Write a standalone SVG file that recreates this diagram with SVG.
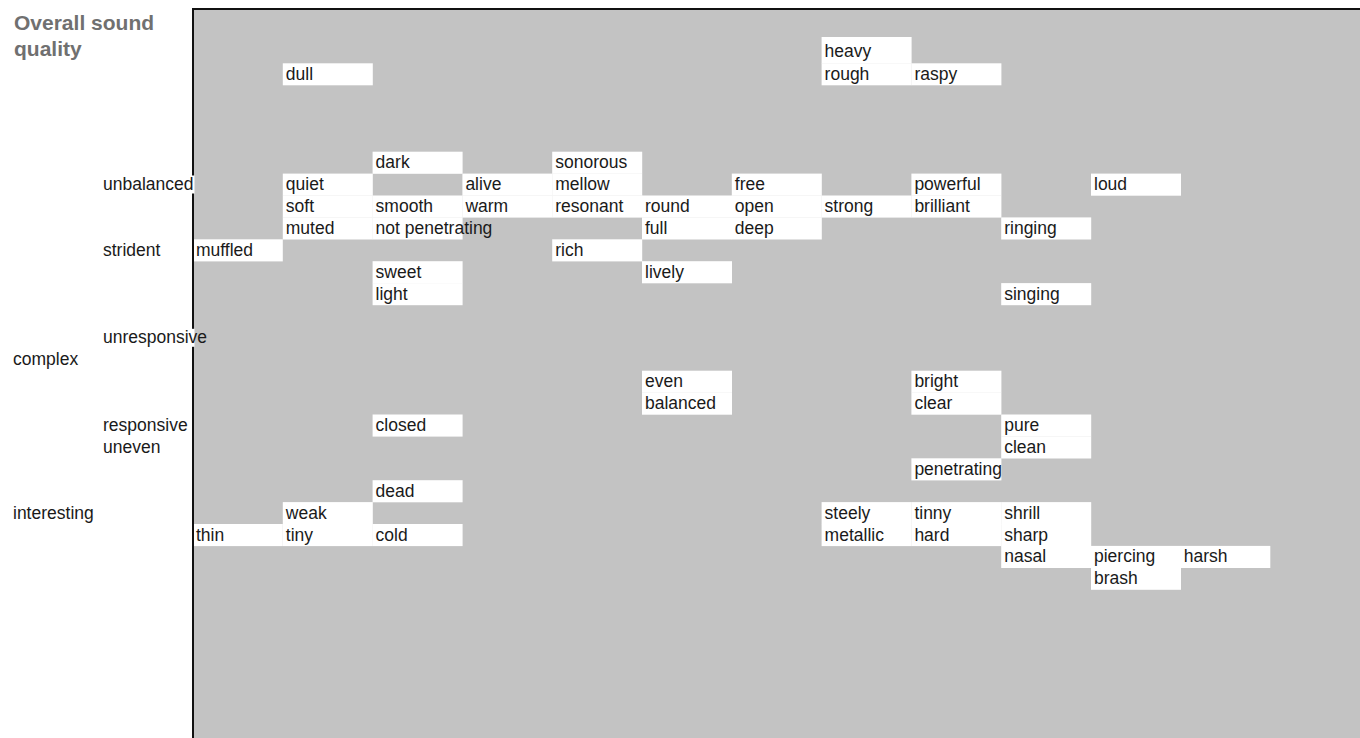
<svg xmlns="http://www.w3.org/2000/svg" width="1360" height="738" viewBox="0 0 1360 738">
<style>
.c{fill:#ffffff}
.t{font-family:"Liberation Sans",Arial,sans-serif;font-size:17.5px;fill:#1a1a1a}
.title{font-family:"Liberation Sans",Arial,sans-serif;font-size:21px;font-weight:bold;fill:#707070}
</style>
<rect x="0" y="0" width="1360" height="738" fill="#ffffff"/>
<rect id="area" x="193" y="9" width="1167" height="729" fill="#c3c3c3"/>
<path d="M193 738 V9 H1360" fill="none" stroke="#111111" stroke-width="2"/>
<g id="title">
<text class="title" x="14" y="30">Overall sound</text>
<text class="title" x="14" y="56">quality</text>
</g>
<g id="labels">
<rect x="150" y="175.5" width="44.5" height="18" fill="#ffffff"/>
<rect x="150" y="328.8" width="44.5" height="18" fill="#ffffff"/>
<g id="l-unbalanced"><text class="t" x="103" y="190.1">unbalanced</text></g>
<g id="l-strident"><text class="t" x="103" y="255.8">strident</text></g>
<g id="l-unresponsive"><text class="t" x="103" y="343.4">unresponsive</text></g>
<g id="l-complex"><text class="t" x="13" y="365.3">complex</text></g>
<g id="l-responsive"><text class="t" x="103" y="431">responsive</text></g>
<g id="l-uneven"><text class="t" x="103" y="452.9">uneven</text></g>
<g id="l-interesting"><text class="t" x="13" y="518.6">interesting</text></g>
</g>
<g id="cells">
<g id="heavy"><rect class="c" x="821.6" y="37" width="90" height="26.6"/><text class="t" x="824.6" y="57">heavy</text></g>
<g id="rough"><rect class="c" x="821.6" y="63.3" width="90" height="22"/><text class="t" x="824.6" y="79.8">rough</text></g>
<g id="raspy"><rect class="c" x="911.4" y="63.3" width="90" height="22"/><text class="t" x="914.4" y="79.8">raspy</text></g>
<g id="dull"><rect class="c" x="282.8" y="63.3" width="90" height="22"/><text class="t" x="285.8" y="79.8">dull</text></g>

<g id="dark"><rect class="c" x="372.6" y="151.7" width="90" height="22.1"/><text class="t" x="375.6" y="168.2">dark</text></g>
<g id="sonorous"><rect class="c" x="552.2" y="151.7" width="90" height="22.1"/><text class="t" x="555.2" y="168.2">sonorous</text></g>

<g id="quiet"><rect class="c" x="282.8" y="173.6" width="90" height="22.1"/><text class="t" x="285.8" y="190.1">quiet</text></g>
<g id="alive"><rect class="c" x="462.4" y="173.6" width="90" height="22.1"/><text class="t" x="465.4" y="190.1">alive</text></g>
<g id="mellow"><rect class="c" x="552.2" y="173.6" width="90" height="22.1"/><text class="t" x="555.2" y="190.1">mellow</text></g>
<g id="free"><rect class="c" x="731.8" y="173.6" width="90" height="22.1"/><text class="t" x="734.8" y="190.1">free</text></g>
<g id="powerful"><rect class="c" x="911.4" y="173.6" width="90" height="22.1"/><text class="t" x="914.4" y="190.1">powerful</text></g>
<g id="loud"><rect class="c" x="1091" y="173.6" width="90" height="22.1"/><text class="t" x="1094" y="190.1">loud</text></g>

<g id="soft"><rect class="c" x="282.8" y="195.5" width="90" height="22.1"/><text class="t" x="285.8" y="212">soft</text></g>
<g id="smooth"><rect class="c" x="372.6" y="195.5" width="90" height="22.1"/><text class="t" x="375.6" y="212">smooth</text></g>
<g id="warm"><rect class="c" x="462.4" y="195.5" width="90" height="22.1"/><text class="t" x="465.4" y="212">warm</text></g>
<g id="resonant"><rect class="c" x="552.2" y="195.5" width="90" height="22.1"/><text class="t" x="555.2" y="212">resonant</text></g>
<g id="round"><rect class="c" x="642" y="195.5" width="90" height="22.1"/><text class="t" x="645" y="212">round</text></g>
<g id="open"><rect class="c" x="731.8" y="195.5" width="90" height="22.1"/><text class="t" x="734.8" y="212">open</text></g>
<g id="strong"><rect class="c" x="821.6" y="195.5" width="90" height="22.1"/><text class="t" x="824.6" y="212">strong</text></g>
<g id="brilliant"><rect class="c" x="911.4" y="195.5" width="90" height="22.1"/><text class="t" x="914.4" y="212">brilliant</text></g>

<g id="muted"><rect class="c" x="282.8" y="217.4" width="90" height="22.1"/><text class="t" x="285.8" y="233.9">muted</text></g>
<g id="not-penetrating"><rect class="c" x="372.6" y="217.4" width="90" height="22.1"/><text class="t" x="375.6" y="233.9">not penetrating</text></g>
<g id="full"><rect class="c" x="642" y="217.4" width="90" height="22.1"/><text class="t" x="645" y="233.9">full</text></g>
<g id="deep"><rect class="c" x="731.8" y="217.4" width="90" height="22.1"/><text class="t" x="734.8" y="233.9">deep</text></g>
<g id="ringing"><rect class="c" x="1001.2" y="217.4" width="90" height="22.1"/><text class="t" x="1004.2" y="233.9">ringing</text></g>

<g id="muffled"><rect class="c" x="194" y="239.3" width="88.8" height="22.1"/><text class="t" x="196" y="255.8">muffled</text></g>
<g id="rich"><rect class="c" x="552.2" y="239.3" width="90" height="22.1"/><text class="t" x="555.2" y="255.8">rich</text></g>

<g id="sweet"><rect class="c" x="372.6" y="261.2" width="90" height="22.1"/><text class="t" x="375.6" y="277.7">sweet</text></g>
<g id="lively"><rect class="c" x="642" y="261.2" width="90" height="22.1"/><text class="t" x="645" y="277.7">lively</text></g>

<g id="light"><rect class="c" x="372.6" y="283.1" width="90" height="22.1"/><text class="t" x="375.6" y="299.6">light</text></g>
<g id="singing"><rect class="c" x="1001.2" y="283.1" width="90" height="22.1"/><text class="t" x="1004.2" y="299.6">singing</text></g>

<g id="even"><rect class="c" x="642" y="370.7" width="90" height="22.1"/><text class="t" x="645" y="387.2">even</text></g>
<g id="bright"><rect class="c" x="911.4" y="370.7" width="90" height="22.1"/><text class="t" x="914.4" y="387.2">bright</text></g>

<g id="balanced"><rect class="c" x="642" y="392.6" width="90" height="22.1"/><text class="t" x="645" y="409.1">balanced</text></g>
<g id="clear"><rect class="c" x="911.4" y="392.6" width="90" height="22.1"/><text class="t" x="914.4" y="409.1">clear</text></g>

<g id="closed"><rect class="c" x="372.6" y="414.5" width="90" height="22.1"/><text class="t" x="375.6" y="431">closed</text></g>
<g id="pure"><rect class="c" x="1001.2" y="414.5" width="90" height="22.1"/><text class="t" x="1004.2" y="431">pure</text></g>

<g id="clean"><rect class="c" x="1001.2" y="436.4" width="90" height="22.1"/><text class="t" x="1004.2" y="452.9">clean</text></g>

<g id="penetrating"><rect class="c" x="911.4" y="458.3" width="90" height="22.1"/><text class="t" x="914.4" y="474.8">penetrating</text></g>

<g id="dead"><rect class="c" x="372.6" y="480.2" width="90" height="22.1"/><text class="t" x="375.6" y="496.7">dead</text></g>

<g id="weak"><rect class="c" x="282.8" y="502.1" width="90" height="22.1"/><text class="t" x="285.8" y="518.6">weak</text></g>
<g id="steely"><rect class="c" x="821.6" y="502.1" width="90" height="22.1"/><text class="t" x="824.6" y="518.6">steely</text></g>
<g id="tinny"><rect class="c" x="911.4" y="502.1" width="90" height="22.1"/><text class="t" x="914.4" y="518.6">tinny</text></g>
<g id="shrill"><rect class="c" x="1001.2" y="502.1" width="90" height="22.1"/><text class="t" x="1004.2" y="518.6">shrill</text></g>

<g id="thin"><rect class="c" x="194" y="524" width="88.8" height="22.1"/><text class="t" x="196" y="540.5">thin</text></g>
<g id="tiny"><rect class="c" x="282.8" y="524" width="90" height="22.1"/><text class="t" x="285.8" y="540.5">tiny</text></g>
<g id="cold"><rect class="c" x="372.6" y="524" width="90" height="22.1"/><text class="t" x="375.6" y="540.5">cold</text></g>
<g id="metallic"><rect class="c" x="821.6" y="524" width="90" height="22.1"/><text class="t" x="824.6" y="540.5">metallic</text></g>
<g id="hard"><rect class="c" x="911.4" y="524" width="90" height="22.1"/><text class="t" x="914.4" y="540.5">hard</text></g>
<g id="sharp"><rect class="c" x="1001.2" y="524" width="90" height="22.1"/><text class="t" x="1004.2" y="540.5">sharp</text></g>

<g id="nasal"><rect class="c" x="1001.2" y="545.9" width="90" height="22.1"/><text class="t" x="1004.2" y="562.4">nasal</text></g>
<g id="piercing"><rect class="c" x="1091" y="545.9" width="90" height="22.1"/><text class="t" x="1094" y="562.4">piercing</text></g>
<g id="harsh"><rect class="c" x="1180.8" y="545.9" width="89.5" height="22.1"/><text class="t" x="1183.8" y="562.4">harsh</text></g>

<g id="brash"><rect class="c" x="1091" y="567.8" width="90" height="22"/><text class="t" x="1094" y="584.3">brash</text></g>
</g>
<g id="connectors"/>
</svg>
